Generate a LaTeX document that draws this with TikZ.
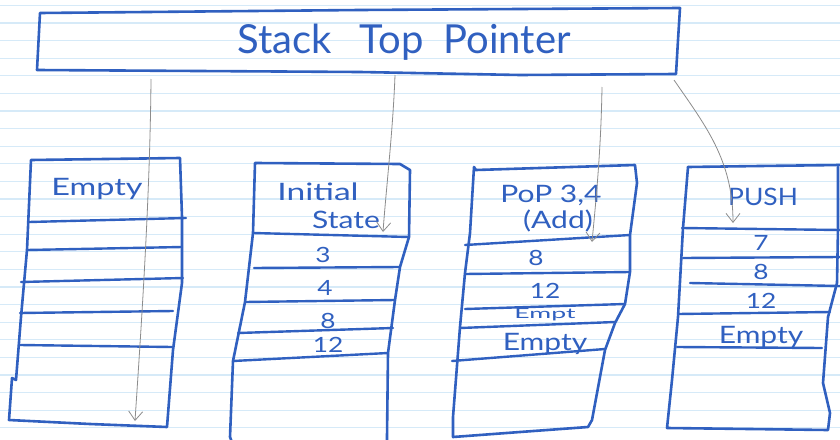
\documentclass[tikz,border=0pt]{standalone}
\usepackage{fontspec}
\usepackage{graphicx}
\setmainfont{Lato}
\usetikzlibrary{arrows.meta}
\definecolor{ink}{RGB}{48,96,192}
\definecolor{ruling}{RGB}{214,234,248}
\definecolor{pencil}{RGB}{140,140,140}
% widen text horizontally, like loose handwriting
\newcommand{\wide}[2][1.25]{\scalebox{#1}[1]{#2}}

\begin{document}
\begin{tikzpicture}[x=1pt,y=-1pt,
  inkline/.style={draw=ink,line width=2.6pt,line join=round,line cap=round},
  rowline/.style={draw=ink,line width=2.4pt,line cap=round},
  lbl/.style={text=ink,inner sep=0pt,anchor=base,font=\fontsize{24}{26}\selectfont},
  num/.style={text=ink,inner sep=0pt,anchor=base,font=\fontsize{21}{23}\selectfont},
  ptrarrow/.style={draw=pencil,line width=0.8pt,
    -{Straight Barb[length=9pt,width=14pt,line width=0.8pt]}},
]
\useasboundingbox (0,0) rectangle (840,439);
\clip (0,0) rectangle (840,439);
\fill[white] (0,0) rectangle (840,439);

% ruled paper
\foreach \k in {0,...,24}
  \draw[ruling,line width=1.2pt] (0,5.3+17.6*\k) -- (840,5.3+17.6*\k);

% stack top pointer bar
\draw[inkline] (40,13) -- (360,10) -- (680,8) -- (678,40) -- (676,74)
  -- (520,75) -- (360,72) -- (37,70) -- cycle;
\node[text=ink,inner sep=0pt,anchor=base,font=\fontsize{40}{44}\selectfont]
  (title) at (404,53) {Stack\hspace{28pt}Top\hspace{20pt}Pointer};

% stack 1: empty
\draw[inkline] (31,160) -- (180,158) -- (182,217) -- (182,283) -- (173,350)
  -- (167,427) -- (90,424) -- (9,420) -- (12,378) -- (16,380) -- (21,317)
  -- (27,250) -- cycle;
\draw[rowline] (29,222) -- (186,218);
\draw[rowline] (27,250) -- (182,247);
\draw[rowline] (21,282) -- (183,278);
\draw[rowline] (20,313) -- (173,311);
\draw[rowline] (20,345) -- (172,347);
\node[lbl] (e1) at (97,195) {\wide[1.35]{Empty}};

% stack 2: initial state
\draw[inkline] (233,445) -- (230,437) -- (233,361) -- (245,302) -- (253,233)
  -- (255,163) -- (400,164) -- (410,170) -- (409,237) -- (400,267)
  -- (395,300) -- (388,353) -- (387,437) -- (387,445);
\draw[rowline] (253,233) -- (409,237);
\draw[rowline] (254,268) -- (400,267);
\draw[rowline] (245,302) -- (395,300);
\draw[rowline] (238,333) -- (393,328);
\draw[rowline] (233,361) -- (388,353);
\node[lbl] (i1) at (318,200) {\wide[1.4]{Initial}};
\node[lbl] (i2) at (346,228) {\wide{State}};
\node[num] (i3) at (323,262) {\wide{3}};
\node[num] (i4) at (325,295) {\wide{4}};
\node[num] (i5) at (328,328) {\wide{8}};
\node[num] (i6) at (328,352) {\wide{12}};

% stack 3: pop 3,4 (add)
\draw[inkline] (474,167) -- (476,170) -- (635,165) -- (637,183) -- (630,235)
  -- (630,272) -- (625,304) -- (615,323) -- (605,350) -- (592,420)
  -- (588,427) -- (520,432) -- (453,437) -- (453,417) -- (460,327)
  -- (465,273) -- (470,233) -- cycle;
\draw[rowline] (465,245) -- (630,235);
\draw[rowline] (465,274) -- (630,272);
\draw[rowline] (465,309) -- (625,304);
\draw[rowline] (460,328) -- (615,322);
\draw[rowline] (452,361) -- (605,349);
\node[lbl] (p1) at (551,202) {\wide{PoP 3,4}};
\node[lbl] (p2) at (558,228) {\wide{(Add)}};
\node[num] (p3) at (536,265) {\wide{8}};
\node[num] (p4) at (545,298) {\wide{12}};
\node[text=ink,inner sep=0pt,anchor=base,font=\fontsize{14}{15}\selectfont]
  (p5) at (545,318) {\wide[1.9]{Empt}};
\node[lbl] (p6) at (545,350) {\wide{Empty}};

% stack 4: push
\draw[inkline] (688,167) -- (760,166) -- (840,165);
\draw[inkline] (838,167) -- (838,228) -- (837,283) -- (828,317) -- (823,383)
  -- (830,413) -- (828,430) -- (750,429) -- (667,428) -- (672,380)
  -- (678,317) -- (683,228) -- (688,167);
\draw[rowline] (682,228) -- (840,230);
\draw[rowline] (683,258) -- (840,257);
\draw[rowline] (690,283) -- (840,286);
\draw[rowline] (678,314) -- (830,312);
\draw[rowline] (677,347) -- (822,348);
\node[lbl] (u1) at (763,205) {\wide[1.1]{PUSH}};
\node[num] (u2) at (761,250) {\wide{7}};
\node[num] (u3) at (761,279) {\wide{8}};
\node[num] (u4) at (761,308) {\wide{12}};
\node[lbl] (u5) at (761,343) {\wide{Empty}};

% pointer arrows from the bar into each stack
\coordinate (s1) at (151,79);  \coordinate (t1) at (135,421);
\coordinate (s2) at (395,75);  \coordinate (t2) at (383,232);
\coordinate (s3) at (602,87);  \coordinate (t3) at (592,242);
\coordinate (s4) at (674,80);  \coordinate (t4) at (733,223);
\draw[ptrarrow] (s1) .. controls (150,200) and (141,330) .. (t1);
\draw[ptrarrow] (s2) .. controls (393,130) and (386,190) .. (t2);
\draw[ptrarrow] (s3) .. controls (601,150) and (596,200) .. (t3);
\draw[ptrarrow] (s4) .. controls (705,125) and (733,160) .. (t4);
\end{tikzpicture}
\end{document}
